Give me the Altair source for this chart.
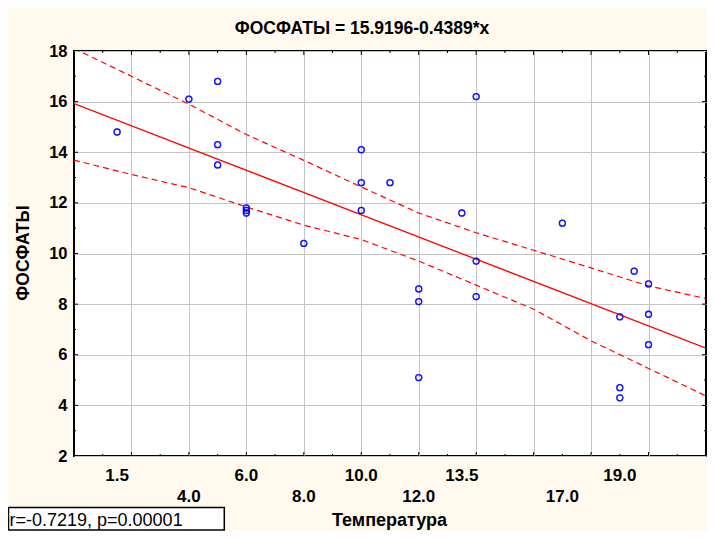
import altair as alt
import pandas as pd

# ---- data ----
temp = [1.5, 4, 5, 5, 5, 6, 6, 6, 8, 10, 10, 10, 11, 12, 12, 12, 13.5,
        14, 14, 14, 17, 19, 19, 19, 19.5, 20, 20, 20]
phos = [14.8, 16.1, 16.8, 14.3, 13.5, 11.8, 11.7, 11.6, 10.4, 14.1, 12.8, 11.7,
        12.8, 8.6, 8.1, 5.1, 11.6, 16.2, 9.7, 8.3, 11.2, 7.5, 4.7, 4.3, 9.3,
        8.8, 7.6, 6.4]

# 95% confidence band
band_x = [0, 2, 4, 6, 8, 10, 12, 14, 16, 18, 20, 22]
band_upper = [18.1, 17.0, 15.9, 14.7, 13.68, 12.63, 11.6, 10.82, 10.13, 9.43, 8.72, 8.22]
band_lower = [13.69, 13.12, 12.6, 11.84, 11.12, 10.55, 9.7, 8.75, 7.8, 6.55, 5.46, 4.37]

# tick labels
x_labels_row1 = [1.5, 6.0, 10.0, 13.5, 19.0]
x_labels_row2 = [4.0, 8.0, 12.0, 17.0]
x_grid = [2, 4, 6, 8, 10, 12, 14, 16, 18, 20]
x_minor = [1, 3, 5, 7, 9, 11, 13, 15, 17, 19, 21]
y_labels = [2, 4, 6, 8, 10, 12, 14, 16, 18]
y_grid = [4, 6, 8, 10, 12, 14, 16]
y_minor = [3, 5, 7, 9, 11, 13, 15, 17]

title_text = "ФОСФАТЫ = 15.9196-0.4389*x"
y_title = "ФОСФАТЫ"
x_title = "Температура"
stat_text = "r=-0.7219, p=0.00001"

FONT = "Liberation Sans"
W, H = 632, 405

xs = alt.Scale(domain=[0, 22], nice=False, zero=False)
ys = alt.Scale(domain=[2, 18], nice=False, zero=False)

x_axis = alt.Axis(values=x_grid, labels=False, ticks=False, domain=False, title=None,
                  grid=True, gridColor="#c4c4c4", gridWidth=1)
y_axis = alt.Axis(values=y_labels, ticks=False, tickSize=0, domain=False, title=None,
                  grid=True, gridColor="#c4c4c4", gridWidth=1,
                  labelFont=FONT, labelFontSize=16.5, labelFontWeight="bold",
                  labelColor="black", labelPadding=7)


def X(field="x"):
    return alt.X(f"{field}:Q", scale=xs, axis=x_axis)


def Y(field="y"):
    return alt.Y(f"{field}:Q", scale=ys, axis=y_axis)


pts = pd.DataFrame({"x": temp, "y": phos})
band = pd.DataFrame({"x": band_x, "up": band_upper, "lo": band_lower})

points = alt.Chart(pts).mark_point(
    shape="circle", filled=False, color="#0000ff", size=36, strokeWidth=1.3
).encode(x=X(), y=Y())

reg = alt.Chart(pts).transform_regression(
    "x", "y", extent=[0, 22]
).mark_line(color="#ff0000", strokeWidth=1.3, clip=True).encode(x=X(), y=Y())

up_line = alt.Chart(band).mark_line(
    color="#ff0000", strokeWidth=1.2, strokeDash=[6, 4], clip=True
).encode(x=X(), y=alt.Y("up:Q", scale=ys, axis=y_axis))
lo_line = alt.Chart(band).mark_line(
    color="#ff0000", strokeWidth=1.2, strokeDash=[6, 4], clip=True
).encode(x=X(), y=alt.Y("lo:Q", scale=ys, axis=y_axis))


# inner ticks on all four sides
def xticks(vals, length):
    d = pd.DataFrame({"x": vals})
    b = alt.Chart(d).mark_rule(color="black", strokeWidth=1).encode(
        x=X(), y=alt.value(H), y2=alt.value(H - length))
    t = alt.Chart(d).mark_rule(color="black", strokeWidth=1).encode(
        x=X(), y=alt.value(0), y2=alt.value(length))
    return [b, t]


def yticks(vals, length):
    d = pd.DataFrame({"y": vals})
    l = alt.Chart(d).mark_rule(color="black", strokeWidth=1).encode(
        y=Y(), x=alt.value(0), x2=alt.value(length))
    r = alt.Chart(d).mark_rule(color="black", strokeWidth=1).encode(
        y=Y(), x=alt.value(W), x2=alt.value(W - length))
    return [l, r]


tick_layers = (xticks(x_grid, 4) + xticks(x_minor, 2)
               + yticks(y_grid, 4) + yticks(y_minor, 2))

# staggered x labels
lab1 = alt.Chart(pd.DataFrame({"x": x_labels_row1})).mark_text(
    font=FONT, fontSize=17, fontWeight="bold", color="black", baseline="alphabetic"
).encode(x=X(), y=alt.value(429.5), text=alt.Text("x:Q", format=".1f"))
lab2 = alt.Chart(pd.DataFrame({"x": x_labels_row2})).mark_text(
    font=FONT, fontSize=17, fontWeight="bold", color="black", baseline="alphabetic"
).encode(x=X(), y=alt.value(450.5), text=alt.Text("x:Q", format=".1f"))

one = pd.DataFrame({"t": [title_text], "yt": [y_title], "xt": [x_title], "s": [stat_text]})

title = alt.Chart(one).mark_text(
    font=FONT, fontSize=17.5, fontWeight="bold", color="black", baseline="alphabetic"
).encode(x=alt.value(288), y=alt.value(-17.4), text="t:N")

ytitle = alt.Chart(one).mark_text(
    font=FONT, fontSize=17.5, fontWeight="bold", color="black", angle=270,
    baseline="middle", align="center"
).encode(x=alt.value(-50), y=alt.value(202), text="yt:N")

xtitle = alt.Chart(one).mark_text(
    font=FONT, fontSize=18, fontWeight="bold", color="black", baseline="alphabetic"
).encode(x=alt.value(315.5), y=alt.value(474.5), text="xt:N")

box = alt.Chart(one).mark_rect(fill="white", stroke="black", strokeWidth=1.5).encode(
    x=alt.value(-65.5), x2=alt.value(150.3), y=alt.value(456.5), y2=alt.value(479))
stat = alt.Chart(one).mark_text(
    font=FONT, fontSize=18, color="black", baseline="alphabetic", align="left"
).encode(x=alt.value(-64.5), y=alt.value(474.5), text="s:N")

chart = alt.layer(
    points, *tick_layers, up_line, lo_line, reg, points,
    lab1, lab2, title, ytitle, xtitle, box, stat
).properties(
    width=W, height=H,
    padding={"left": 66, "top": 43, "right": 1, "bottom": 75},
    autosize=alt.AutoSizeParams(type="none"),
    background="#fff9ee",
).configure_view(
    stroke="black", strokeWidth=2, fill="white"
)

chart.save("out.html", embed_options={"renderer": "svg", "actions": False})
